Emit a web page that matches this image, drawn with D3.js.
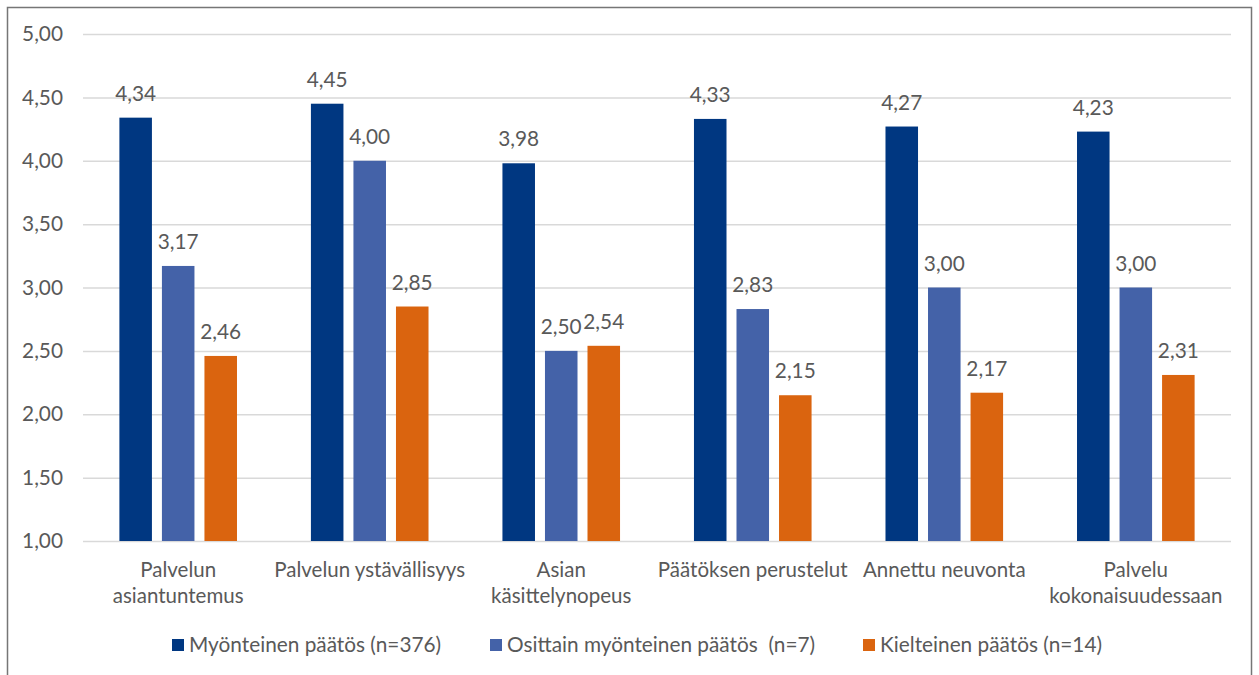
<!DOCTYPE html>
<html>
<head>
<meta charset="utf-8">
<script src="https://cdn.jsdelivr.net/npm/d3@7"></script>
<style>
  html, body { margin: 0; padding: 0; background: #fff; }
  svg text { font-family: Lato, "Open Sans", sans-serif; fill: #595959; }
</style>
</head>
<body>
<svg id="chart" width="1259" height="675"></svg>
<script>
// Categories (each label split into lines)
const categories = [
  ["Palvelun", "asiantuntemus"],
  ["Palvelun ystävällisyys"],
  ["Asian", "käsittelynopeus"],
  ["Päätöksen perustelut"],
  ["Annettu neuvonta"],
  ["Palvelu", "kokonaisuudessaan"]
];
const seriesNames = [
  "Myönteinen päätös (n=376)",
  "Osittain myönteinen päätös  (n=7)",
  "Kielteinen päätös (n=14)"
];
const myonteinen = [4.34, 4.45, 3.98, 4.33, 4.27, 4.23];
const osittain   = [3.17, 4.00, 2.50, 2.83, 3.00, 3.00];
const kielteinen = [2.46, 2.85, 2.54, 2.15, 2.17, 2.31];
const yTicks = [1.0, 1.5, 2.0, 2.5, 3.0, 3.5, 4.0, 4.5, 5.0];
const colors = ["#003781", "#4462a8", "#da640f"];

const series = [myonteinen, osittain, kielteinen];
const fmt = v => v.toFixed(2).replace(".", ",");
const FS = 20.8;

const svg = d3.select("#chart");

// outer frame
svg.append("rect")
  .attr("x", 7.5).attr("y", 7.5)
  .attr("width", 1244).attr("height", 680)
  .attr("fill", "none").attr("stroke", "#767676").attr("stroke-width", 1.5);

const plot = { left: 83, right: 1231, top: 34, bottom: 541 };

const y = d3.scaleLinear().domain([1, 5]).range([plot.bottom, plot.top]);
const x0 = d3.scaleBand()
  .domain(d3.range(categories.length))
  .range([plot.left, plot.right])
  .paddingInner(0.386).paddingOuter(0.19);
const x1 = d3.scaleBand()
  .domain(d3.range(series.length))
  .range([0, x0.bandwidth()])
  .paddingInner(0.235);

// gridlines + y labels
const yAxis = d3.axisLeft(y)
  .tickValues(yTicks)
  .tickSize(-(plot.right - plot.left))
  .tickPadding(20)
  .tickFormat(fmt);
const gy = svg.append("g")
  .attr("transform", `translate(${plot.left},0)`)
  .call(yAxis);
gy.select(".domain").remove();
gy.selectAll(".tick line").attr("stroke", "#d9d9d9").attr("stroke-width", 1.5);
gy.selectAll(".tick text")
  .attr("font-size", FS)
  .attr("fill", "#595959");

// bars
const groups = svg.append("g").selectAll("g")
  .data(categories.map((c, i) => i))
  .join("g")
  .attr("transform", i => `translate(${x0(i)},0)`);

groups.selectAll("rect")
  .data(i => series.map((s, k) => ({ k, v: s[i] })))
  .join("rect")
  .attr("x", d => x1(d.k))
  .attr("y", d => y(d.v))
  .attr("width", x1.bandwidth())
  .attr("height", d => y(1) - y(d.v))
  .attr("fill", d => colors[d.k]);

groups.selectAll("text.val")
  .data(i => series.map((s, k) => ({ k, v: s[i] })))
  .join("text")
  .attr("class", "val")
  .attr("x", d => x1(d.k) + x1.bandwidth() / 2)
  .attr("y", d => y(d.v) - 17)
  .attr("text-anchor", "middle")
  .attr("font-size", FS)
  .attr("fill", "#404040")
  .text(d => fmt(d.v));

// category labels
const cat = svg.append("g").selectAll("text")
  .data(categories)
  .join("text")
  .attr("x", (c, i) => x0(i) + x0.bandwidth() / 2)
  .attr("y", 577)
  .attr("text-anchor", "middle")
  .attr("font-size", 20.5);
cat.selectAll("tspan")
  .data(c => c)
  .join("tspan")
  .attr("x", function () { return d3.select(this.parentNode).attr("x"); })
  .attr("dy", (d, j) => j === 0 ? 0 : 26)
  .text(d => d);

// legend
const legendX = [172, 490, 863];
const lg = svg.append("g").selectAll("g")
  .data(seriesNames)
  .join("g")
  .attr("transform", (d, i) => `translate(${legendX[i]},639)`);
lg.append("rect").attr("width", 12).attr("height", 12)
  .attr("fill", (d, i) => colors[i]);
lg.append("text").attr("x", 17).attr("y", 13)
  .attr("font-size", FS)
  .style("white-space", "pre")
  .text(d => d);
</script>
</body>
</html>
